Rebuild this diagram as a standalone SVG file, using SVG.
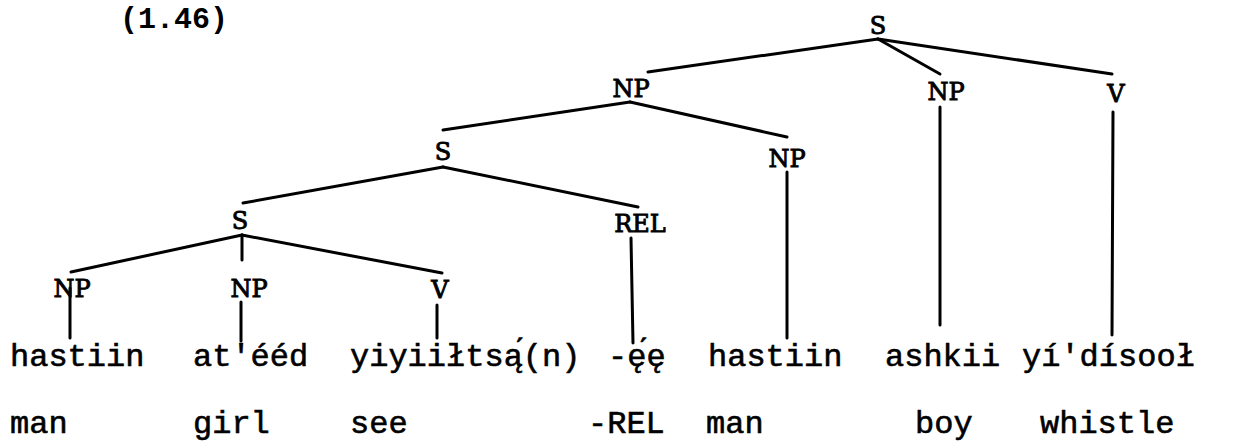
<svg xmlns="http://www.w3.org/2000/svg" width="1238" height="446" viewBox="0 0 1238 446">
<style>
.cat{font-family:"DejaVu Serif","Liberation Serif",serif;font-size:24px;fill:#000;text-anchor:middle;stroke:#000;stroke-width:0.9}
.w{font-family:"Liberation Mono","DejaVu Sans Mono",monospace;font-size:32px;fill:#000;stroke:#000;stroke-width:0.6}
.num{font-family:"Liberation Mono","DejaVu Sans Mono",monospace;font-size:30px;font-weight:bold;fill:#000}
.ln{stroke:#000;stroke-width:3;stroke-linecap:round;fill:none}
</style>
<rect width="1238" height="446" fill="#fff"/>
<text class="num" x="120" y="28">(1.46)</text>
<g id="connectors" class="ln">
<line x1="878" y1="39" x2="648" y2="72"/>
<line x1="878" y1="39" x2="940" y2="74"/>
<line x1="878" y1="39" x2="1112" y2="74"/>
<line x1="940" y1="107" x2="940" y2="325"/>
<line x1="1113" y1="112" x2="1112" y2="335"/>
<line x1="630" y1="102" x2="443" y2="130"/>
<line x1="630" y1="102" x2="787" y2="137"/>
<line x1="787" y1="172" x2="787" y2="338"/>
<line x1="443" y1="167" x2="243" y2="203"/>
<line x1="443" y1="167" x2="638" y2="207"/>
<line x1="631" y1="238" x2="633" y2="343"/>
<line x1="242" y1="235" x2="71" y2="272"/>
<line x1="242" y1="235" x2="242" y2="260"/>
<line x1="242" y1="235" x2="442" y2="273"/>
<line x1="70" y1="288" x2="70" y2="338"/>
<line x1="241" y1="302" x2="241" y2="341"/>
<line x1="437" y1="305" x2="437" y2="338"/>
</g>
<g id="n-S-root"><text class="cat" x="878" y="34">S</text></g>
<g id="n-NP-1"><text class="cat" x="631" y="97">NP</text></g>
<g id="n-NP-2"><text class="cat" x="946" y="100">NP</text></g>
<g id="n-V-1"><text class="cat" x="1116" y="102">V</text></g>
<g id="n-S-2"><text class="cat" x="443" y="160">S</text></g>
<g id="n-NP-3"><text class="cat" x="787" y="167">NP</text></g>
<g id="n-S-3"><text class="cat" x="240" y="229">S</text></g>
<g id="n-REL"><text class="cat" x="640" y="232">REL</text></g>
<g id="n-NP-4"><text class="cat" x="72" y="297">NP</text></g>
<g id="n-NP-5"><text class="cat" x="249" y="297">NP</text></g>
<g id="n-V-2"><text class="cat" x="440" y="298">V</text></g>
<g id="w-hastiin-1"><text class="w" x="10" y="366">hastiin</text><text class="w" x="10" y="433">man</text></g>
<g id="w-ateed"><text class="w" x="193" y="366">at'ééd</text><text class="w" x="193" y="433">girl</text></g>
<g id="w-yiyiiltsa"><text class="w" x="350" y="366">yiyiiłtsą́(n)</text><text class="w" x="350" y="433">see</text></g>
<g id="w-ee"><text class="w" x="608" y="366">-ę́ę</text><text class="w" x="588" y="433">-REL</text></g>
<g id="w-hastiin-2"><text class="w" x="708" y="366">hastiin</text><text class="w" x="706" y="433">man</text></g>
<g id="w-ashkii"><text class="w" x="885" y="366">ashkii</text><text class="w" x="915" y="433">boy</text></g>
<g id="w-yidisool"><text class="w" x="1022" y="366">yí'dísooł</text><text class="w" x="1040" y="433">whistle</text></g>
</svg>
